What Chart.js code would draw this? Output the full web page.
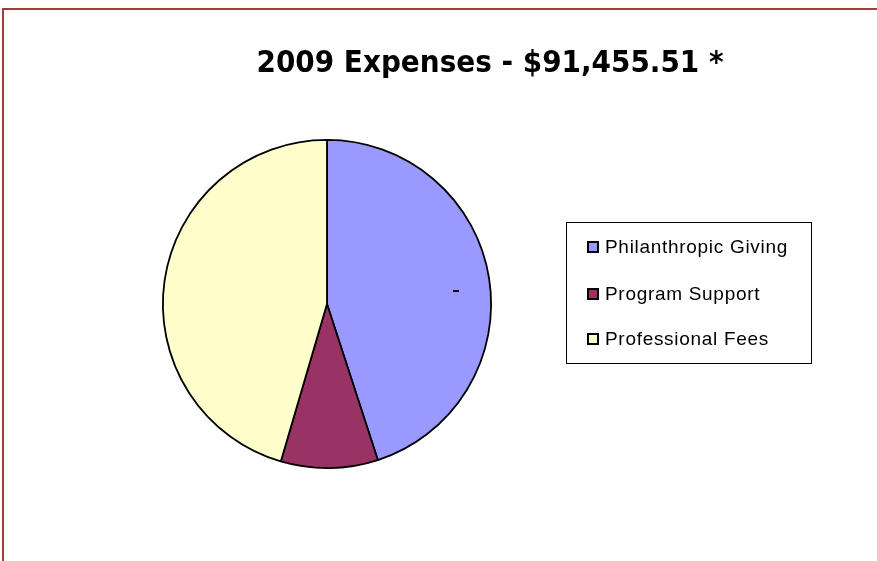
<!DOCTYPE html>
<html>
<head>
<meta charset="utf-8">
<script src="https://cdn.jsdelivr.net/npm/chart.js@4"></script>
<style>
  html, body { margin: 0; padding: 0; background: #fff; overflow: hidden; }
  #wrap { position: relative; width: 877px; height: 561px; }
  #frame { position: absolute; left: 2px; top: 8px; width: 1000px; height: 1000px;
           border: 2px solid #9e3f3c; box-sizing: border-box; pointer-events: none; }
  canvas { position: absolute; left: 0; top: 0; }
</style>
</head>
<body>
<div id="wrap">
  <canvas id="c" width="877" height="561"></canvas>
  <div id="frame"></div>
</div>
<script>
const titleText = "2009 Expenses - $91,455.51 *";
const categories = ["Philanthropic Giving", "Program Support", "Professional Fees"];
const expenses = [41143, 8740, 41572.51];
const sliceColors = ["#9999FF", "#993366", "#FFFFCC"];

const overlayPlugin = {
  id: 'overlay',
  afterDraw(chart) {
    const ctx = chart.ctx;
    ctx.save();
    // title
    ctx.fillStyle = '#000';
    ctx.font = 'bold 31px "DejaVu Sans Condensed", "DejaVu Sans", sans-serif';
    ctx.textAlign = 'center';
    ctx.textBaseline = 'alphabetic';
    ctx.fillText(titleText, 490, 72);
    // small data label mark
    ctx.fillRect(453, 290, 6, 2);
    // legend box
    ctx.strokeStyle = '#000';
    ctx.lineWidth = 1;
    ctx.strokeRect(566.5, 222.5, 245, 141);
    const ys = [247, 294, 339];
    ctx.font = '19px "Liberation Sans", Arial, sans-serif';
    if ('letterSpacing' in ctx) ctx.letterSpacing = '0.7px';
    ctx.textAlign = 'left';
    ctx.textBaseline = 'middle';
    categories.forEach((lab, i) => {
      ctx.fillStyle = sliceColors[i];
      ctx.fillRect(588, ys[i] - 5, 10, 10);
      ctx.strokeStyle = '#000';
      ctx.lineWidth = 2;
      ctx.strokeRect(588, ys[i] - 5, 10, 10);
      ctx.fillStyle = '#000';
      ctx.fillText(lab, 605, ys[i] + 1);
    });
    ctx.restore();
  }
};

new Chart(document.getElementById('c'), {
  type: 'pie',
  data: {
    labels: categories,
    datasets: [{
      data: expenses,
      backgroundColor: sliceColors,
      borderColor: '#000',
      borderWidth: 1.8,
      borderAlign: 'center'
    }]
  },
  options: {
    responsive: false,
    animation: false,
    devicePixelRatio: 1,
    layout: { padding: { left: 162, right: 385, top: 139, bottom: 92 } },
    plugins: {
      legend: { display: false },
      title: { display: false },
      tooltip: { enabled: false }
    }
  },
  plugins: [overlayPlugin]
});
</script>
</body>
</html>
